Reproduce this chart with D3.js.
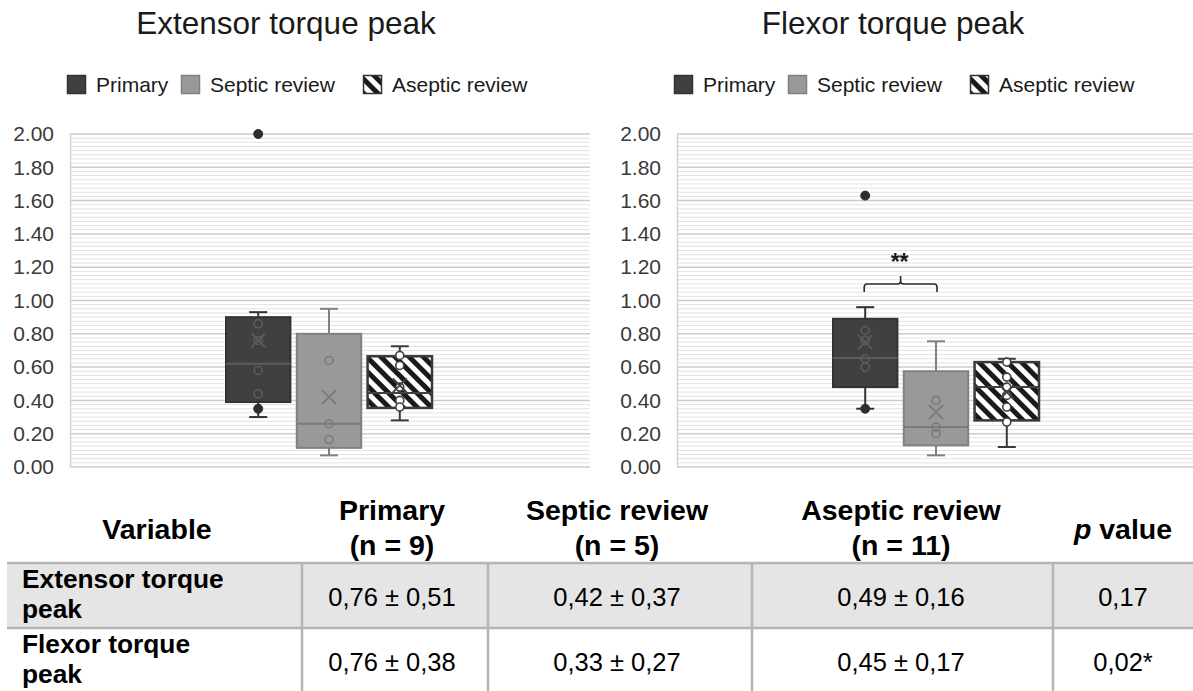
<!DOCTYPE html>
<html>
<head>
<meta charset="utf-8">
<script src="https://cdn.jsdelivr.net/npm/d3@7"></script>
<style>
  html, body { margin: 0; padding: 0; background: #fff; }
  svg { display: block; font-family: "Liberation Sans", Arial, sans-serif; }
</style>
</head>
<body>
<svg id="chart" width="1193" height="691"></svg>
<script>
// ---------------- DATA ----------------
const groups = ["Primary", "Septic review", "Aseptic review"];
const yTickValues = [0, 0.2, 0.4, 0.6, 0.8, 1.0, 1.2, 1.4, 1.6, 1.8, 2.0];

// Extensor torque peak
const extMin = [0.30, 0.07, 0.28];
const extQ1 = [0.39, 0.115, 0.355];
const extMedian = [0.62, 0.26, 0.445];
const extQ3 = [0.90, 0.80, 0.665];
const extMax = [0.93, 0.95, 0.725];
const extMean = [0.76, 0.42, 0.49];
const extPoints = [[0.86, 0.76, 0.58, 0.44], [0.64, 0.26, 0.165], [0.67, 0.61, 0.48, 0.40, 0.36]];
const extOutliers = [[2.00, 0.35], [], []];

// Flexor torque peak
const flxMin = [0.35, 0.07, 0.12];
const flxQ1 = [0.48, 0.13, 0.28];
const flxMedian = [0.655, 0.24, 0.48];
const flxQ3 = [0.89, 0.575, 0.63];
const flxMax = [0.96, 0.755, 0.65];
const flxMean = [0.75, 0.33, 0.45];
const flxPoints = [[0.82, 0.76, 0.65, 0.60], [0.40, 0.24, 0.20], [0.63, 0.54, 0.48, 0.43, 0.36, 0.27]];
const flxOutliers = [[1.63, 0.35], [], []];

// Table
const tableHeaders = ["Variable", "Primary", "Septic review", "Aseptic review", "p value"];
const tableSubHeaders = ["", "(n = 9)", "(n = 5)", "(n = 11)", ""];
const tableRowLabels = [["Extensor torque", "peak"], ["Flexor torque", "peak"]];
const extStats = ["0,76 ± 0,51", "0,42 ± 0,37", "0,49 ± 0,16"];
const flxStats = ["0,76 ± 0,38", "0,33 ± 0,27", "0,45 ± 0,17"];
const pValues = ["0,17", "0,02*"];

// ---------------- STYLE ----------------
const fills = ["#404040", "#999999", "url(#hatch)"];
const strokes = ["#333333", "#808080", "#3a3a3a"];
const markStroke = ["#5c5c5c", "#7a7a7a", "#404040"];
const markFill = ["none", "none", "#ffffff"];

const svg = d3.select("#chart");
const defs = svg.append("defs");
const pat = defs.append("pattern")
  .attr("id", "hatch").attr("patternUnits", "userSpaceOnUse")
  .attr("width", 10).attr("height", 10)
  .attr("patternTransform", "rotate(45)");
pat.append("rect").attr("width", 10).attr("height", 10).attr("fill", "#fff");
pat.append("rect").attr("y", 0).attr("width", 10).attr("height", 5).attr("fill", "#1a1a1a");

const y = d3.scaleLinear().domain([0, 2]).range([467, 134]);
const fmt = d3.format(".2f");

function drawChart(ox, plotRight, title, st) {
  const g = svg.append("g").attr("transform", `translate(${ox},0)`);
  const plotLeft = 0;
  const width = plotRight - ox;

  // title
  g.append("text").attr("x", 216).attr("y", 34).attr("text-anchor", "middle")
    .attr("font-size", 31.5).attr("fill", "#1a1a1a").text(title);

  // legend
  const legX = [-3, 111, 293];
  const leg = g.selectAll("g.leg").data(groups).join("g").attr("class", "leg")
    .attr("transform", (d, i) => `translate(${legX[i]},75)`);
  leg.append("rect").attr("x", 0.5).attr("y", 0.5).attr("width", 18).attr("height", 18)
    .attr("fill", (d, i) => fills[i]).attr("stroke", (d, i) => i === 1 ? "#808080" : "#333")
    .attr("stroke-width", 1.5);
  leg.append("text").attr("x", 29).attr("y", 17).attr("font-size", 21).attr("fill", "#1a1a1a")
    .text(d => d);

  // gridlines minor
  const minor = d3.range(0, 2.0001, 0.025).filter(v => Math.abs(v * 5 - Math.round(v * 5)) > 1e-6);
  g.append("g").selectAll("line").data(minor).join("line")
    .attr("x1", plotLeft).attr("x2", width).attr("y1", d => y(d)).attr("y2", d => y(d))
    .attr("stroke", "#e2e2e2").attr("stroke-width", 1);
  // major
  g.append("g").selectAll("line").data(yTickValues).join("line")
    .attr("x1", plotLeft).attr("x2", width).attr("y1", d => y(d)).attr("y2", d => y(d))
    .attr("stroke", "#cccccc").attr("stroke-width", 1.5);
  g.append("line").attr("x1", 0.5).attr("x2", 0.5).attr("y1", y(2)).attr("y2", y(0))
    .attr("stroke", "#d4d4d4").attr("stroke-width", 1.5);

  // axis
  const axis = g.append("g").call(d3.axisLeft(y).tickValues(yTickValues).tickFormat(fmt).tickSize(0).tickPadding(16));
  axis.select(".domain").remove();
  axis.selectAll("text").attr("font-size", 21).attr("fill", "#3a3a3a")
    .attr("font-family", "'Liberation Sans', Arial, sans-serif");

  // x band
  const x = d3.scaleBand().domain(groups).range([156, 362]).paddingInner(0.09);
  const bw = x.bandwidth();

  const box = g.selectAll("g.box").data(groups).join("g").attr("class", "box");
  // whiskers
  box.append("line").attr("x1", d => x(d) + bw / 2).attr("x2", d => x(d) + bw / 2)
    .attr("y1", (d, i) => y(st.max[i])).attr("y2", (d, i) => y(st.q3[i]))
    .attr("stroke", (d, i) => strokes[i]).attr("stroke-width", 2);
  box.append("line").attr("x1", d => x(d) + bw / 2).attr("x2", d => x(d) + bw / 2)
    .attr("y1", (d, i) => y(st.min[i])).attr("y2", (d, i) => y(st.q1[i]))
    .attr("stroke", (d, i) => strokes[i]).attr("stroke-width", 2);
  box.append("line").attr("x1", d => x(d) + bw / 2 - 9).attr("x2", d => x(d) + bw / 2 + 9)
    .attr("y1", (d, i) => y(st.max[i])).attr("y2", (d, i) => y(st.max[i]))
    .attr("stroke", (d, i) => strokes[i]).attr("stroke-width", 2);
  box.append("line").attr("x1", d => x(d) + bw / 2 - 9).attr("x2", d => x(d) + bw / 2 + 9)
    .attr("y1", (d, i) => y(st.min[i])).attr("y2", (d, i) => y(st.min[i]))
    .attr("stroke", (d, i) => strokes[i]).attr("stroke-width", 2);
  // box
  box.append("rect").attr("x", d => x(d)).attr("width", bw)
    .attr("y", (d, i) => y(st.q3[i])).attr("height", (d, i) => y(st.q1[i]) - y(st.q3[i]))
    .attr("fill", (d, i) => fills[i]).attr("stroke", (d, i) => strokes[i])
    .attr("stroke-width", (d, i) => i === 2 ? 2.5 : 2);
  // median
  box.append("line").attr("x1", d => x(d)).attr("x2", d => x(d) + bw)
    .attr("y1", (d, i) => y(st.median[i])).attr("y2", (d, i) => y(st.median[i]))
    .attr("stroke", (d, i) => markStroke[i]).attr("stroke-width", 2);
  // inner points
  box.each(function (d, i) {
    const cx = x(d) + bw / 2;
    d3.select(this).selectAll("circle.pt").data(st.points[i]).join("circle").attr("class", "pt")
      .attr("cx", cx).attr("cy", v => y(v)).attr("r", 4)
      .attr("fill", markFill[i]).attr("stroke", markStroke[i]).attr("stroke-width", 1.6);
    // mean X
    const my = y(st.mean[i]);
    d3.select(this).append("path")
      .attr("d", `M${cx - 7},${my - 7}L${cx + 7},${my + 7}M${cx - 7},${my + 7}L${cx + 7},${my - 7}`)
      .attr("stroke", markStroke[i]).attr("stroke-width", 1.8).attr("fill", "none");
    d3.select(this).selectAll("circle.out").data(st.outliers[i]).join("circle").attr("class", "out")
      .attr("cx", cx).attr("cy", v => y(v)).attr("r", 4.5)
      .attr("fill", "#2e2e2e").attr("stroke", "#2e2e2e");
  });
  return { g, x, bw };
}

drawChart(70, 590, "Extensor torque peak",
  { min: extMin, q1: extQ1, median: extMedian, q3: extQ3, max: extMax, mean: extMean, points: extPoints, outliers: extOutliers });
const right = drawChart(677, 1193, "Flexor torque peak",
  { min: flxMin, q1: flxQ1, median: flxMedian, q3: flxQ3, max: flxMax, mean: flxMean, points: flxPoints, outliers: flxOutliers });

// significance bracket between Primary and Septic review (right chart)
{
  const { g, x, bw } = right;
  const x1 = x(groups[0]) + bw / 2 - 1, x2 = x(groups[1]) + bw / 2 + 1;
  const by = 284, drop = 8, r = 3;
  const xm = (x1 + x2) / 2;
  g.append("path")
    .attr("d", `M${x1},${by + drop}L${x1},${by + r}Q${x1},${by} ${x1 + r},${by}L${xm - r},${by}Q${xm},${by} ${xm},${by - r}L${xm},${by - 8}` +
      `M${xm},${by - r}Q${xm},${by} ${xm + r},${by}L${x2 - r},${by}Q${x2},${by} ${x2},${by + r}L${x2},${by + drop}`)
    .attr("fill", "none").attr("stroke", "#2a2a2a").attr("stroke-width", 1.6);
  g.append("text").attr("x", xm - 1).attr("y", 270).attr("text-anchor", "middle")
    .attr("font-size", 23).attr("font-weight", "bold").attr("fill", "#1a1a1a").text("**");
}

// ---------------- TABLE ----------------
const colEdges = [7, 302, 488, 752, 1053, 1193];
const colCenters = [157, 392, 617, 901, 1123];
const rowTop = [563, 628];
const rowBottom = [628, 691];
const tg = svg.append("g").attr("fill", "#000");

tg.append("rect").attr("x", 7).attr("y", rowTop[0]).attr("width", 1193 - 7).attr("height", rowBottom[0] - rowTop[0])
  .attr("fill", "#e5e5e5");

// headers
tableHeaders.forEach((h, i) => {
  const twoLine = tableSubHeaders[i] !== "";
  const t = tg.append("text").attr("x", colCenters[i]).attr("y", twoLine ? 520 : 539)
    .attr("text-anchor", "middle").attr("font-size", 28.5).attr("font-weight", "bold");
  if (h === "p value") {
    t.append("tspan").attr("font-style", "italic").text("p");
    t.append("tspan").text(" value");
  } else {
    t.text(h);
  }
  if (twoLine) {
    tg.append("text").attr("x", colCenters[i]).attr("y", 555).attr("text-anchor", "middle")
      .attr("font-size", 28.5).attr("font-weight", "bold").text(tableSubHeaders[i]);
  }
});

// row labels and values
const rowStats = [extStats, flxStats];
tableRowLabels.forEach((lbl, r) => {
  lbl.forEach((line, k) => {
    tg.append("text").attr("x", 22).attr("y", rowTop[r] + 25 + k * 30)
      .attr("font-size", 26.3).attr("font-weight", "bold").text(line);
  });
  rowStats[r].forEach((v, c) => {
    tg.append("text").attr("x", colCenters[c + 1]).attr("y", rowTop[r] + 43)
      .attr("text-anchor", "middle").attr("font-size", 25.5).text(v);
  });
  tg.append("text").attr("x", colCenters[4]).attr("y", rowTop[r] + 43)
    .attr("text-anchor", "middle").attr("font-size", 25.5).text(pValues[r]);
});

// grid lines
[rowTop[0], rowTop[1]].forEach(yy => {
  tg.append("line").attr("x1", 7).attr("x2", 1193).attr("y1", yy).attr("y2", yy)
    .attr("stroke", "#b5b5b5").attr("stroke-width", 2.5);
});
colEdges.slice(1, 5).forEach(xx => {
  tg.append("line").attr("x1", xx).attr("x2", xx).attr("y1", rowTop[0]).attr("y2", 691)
    .attr("stroke", "#b5b5b5").attr("stroke-width", 2.5);
});
</script>
</body>
</html>
